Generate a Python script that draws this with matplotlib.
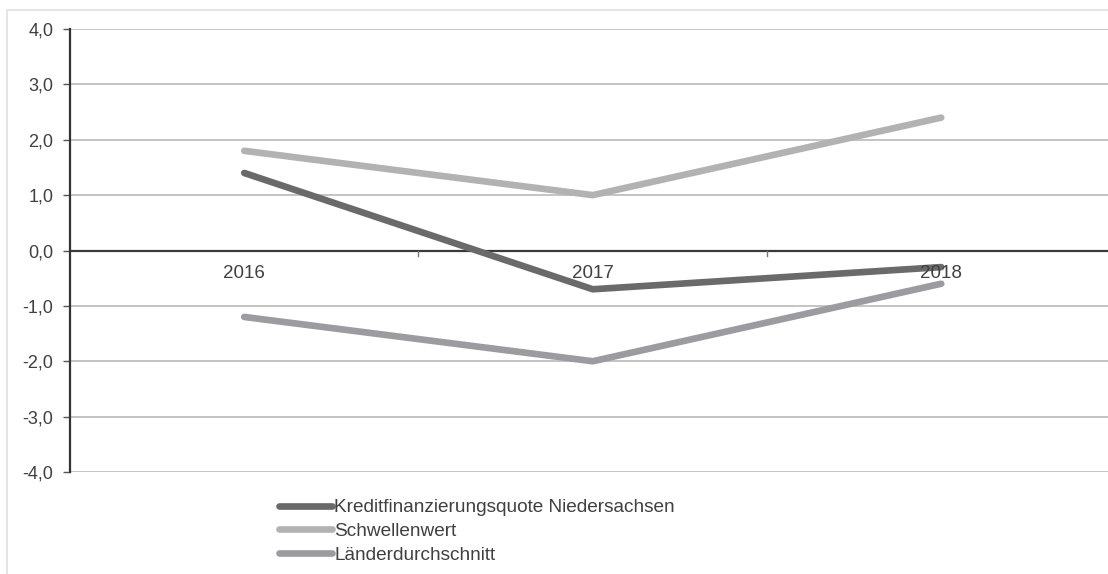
import numpy as np
import matplotlib
matplotlib.use('Agg')
import matplotlib.pyplot as plt
from matplotlib.ticker import FuncFormatter
from matplotlib.patches import Rectangle

plt.rcParams['font.family'] = ['Liberation Sans', 'DejaVu Sans']

years = ['2016', '2017', '2018']
kredit = [1.4, -0.7, -0.3]
schwelle = [1.8, 1.0, 2.4]
laender = [-1.2, -2.0, -0.6]

labels = ['Kreditfinanzierungsquote Niedersachsen', 'Schwellenwert', 'Länderdurchschnitt']
colors = ['#6a6a6a', '#b2b2b2', '#9c9ca0']

W, H = 1108, 574
fig = plt.figure(figsize=(W / 100, H / 100), dpi=100)

# light outer frame (only top and left visible)
fig.patches.append(Rectangle((7 / W, -0.1), 1.2, 1 - 10 / H + 0.1, transform=fig.transFigure,
                             fill=False, edgecolor='#e0e0e0', linewidth=1.2))

left, right, top, bottom = 70, 1115.5, 29, 472
ax = fig.add_axes([left / W, 1 - bottom / H, (right - left) / W, (bottom - top) / H])

x = np.arange(len(years))
for vals, lab, col in zip([kredit, schwelle, laender], labels, colors):
    ax.plot(x, vals, color=col, linewidth=4.8, solid_capstyle='round',
            solid_joinstyle='round', label=lab, zorder=3)

ax.set_xlim(-0.5, 2.5)
ax.set_ylim(-4, 4)
ax.set_yticks(np.arange(-4, 5, 1))
ax.yaxis.set_major_formatter(FuncFormatter(lambda v, p: f'{v:.1f}'.replace('.', ',')))
ax.grid(axis='y', color='#b4b4b4', linewidth=1.1, zorder=0)
ax.set_axisbelow(True)

for s in ['top', 'right', 'bottom']:
    ax.spines[s].set_visible(False)
ax.spines['left'].set_color('#333333')
ax.spines['left'].set_linewidth(1.6)
ax.tick_params(axis='y', length=5, width=1, color='#555555', labelsize=13,
               labelcolor='#404040', pad=7)

# zero axis line with category boundary ticks
ax.axhline(0, color='#3a3a3a', linewidth=1.6, zorder=2)
ax.set_xticks([])
for b in [0.5, 1.5]:
    ax.plot([b, b], [0, -0.1], color='#777777', linewidth=1, zorder=2)
for i, yr in enumerate(years):
    ax.text(i, -0.42, yr, ha='center', va='center', fontsize=13.5, color='#404040', zorder=4)

leg = fig.legend(loc='upper left', bbox_to_anchor=(279 / W, 1 - 499 / H), frameon=False,
                 fontsize=13.7, handlelength=2.8, handletextpad=0.1, labelspacing=0.33,
                 borderaxespad=0, borderpad=0)
for t in leg.get_texts():
    t.set_color('#404040')
for h in leg.get_lines():
    h.set_linewidth(4.8)
    h.set_solid_capstyle('round')

fig.savefig('out.png', dpi=100)
